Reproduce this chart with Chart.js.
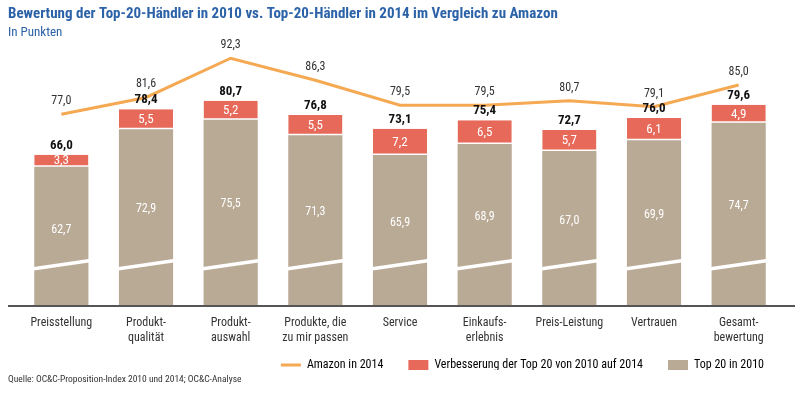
<!DOCTYPE html>
<html>
<head>
<meta charset="utf-8">
<script src="https://cdn.jsdelivr.net/npm/chart.js@4.4.1/dist/chart.umd.min.js"></script>
<style>
  html, body { margin: 0; padding: 0; background: #fff; }
</style>
</head>
<body>
<canvas id="chart" width="800" height="396"></canvas>
<script>
// categories (multi-line tick labels)
const categories = [
    ['Preisstellung'],
    ['Produkt-', 'qualität'],
    ['Produkt-', 'auswahl'],
    ['Produkte, die', 'zu mir passen'],
    ['Service'],
    ['Einkaufs-', 'erlebnis'],
    ['Preis-Leistung'],
    ['Vertrauen'],
    ['Gesamt-', 'bewertung']
];

// series values
const top20In2010 = [62.7, 72.9, 75.5, 71.3, 65.9, 68.9, 67.0, 69.9, 74.7];
const improvement = [3.3, 5.5, 5.2, 5.5, 7.2, 6.5, 5.7, 6.1, 4.9];
const totals2014 = [66.0, 78.4, 80.7, 76.8, 73.1, 75.4, 72.7, 76.0, 79.6];
const amazon2014 = [77.0, 81.6, 92.3, 86.3, 79.5, 79.5, 80.7, 79.1, 85.0];

// axis is cut (values start near 25)
const axisMin = 25;
const axisMax = 97;
const breakValue = 36;

const BEIGE = '#b9aa96';
const RED = '#e7695a';
const ORANGE = '#f5a953';
const BLUE = '#2c62a8';

const FONT = '"Roboto Condensed", "DejaVu Sans Condensed", sans-serif';
Chart.defaults.font.family = FONT;
Chart.defaults.color = '#333';

function fmt(v) {
    return v.toFixed(1).replace('.', ',');
}

// draws the axis line, the break marks, the value labels and the source line
const decorPlugin = {
    id: 'decor',
    afterLayout(chart) {
        // pull the legend up a bit, closer to the two-line category labels
        if (chart.legend) {
            chart.legend.top -= 15;
            chart.legend.bottom -= 15;
        }
    },
    afterDatasetsDraw(chart) {
        const ctx = chart.ctx;
        const area = chart.chartArea;
        const yScale = chart.scales.y;
        const baseBars = chart.getDatasetMeta(0).data;
        const topBars = chart.getDatasetMeta(1).data;
        const linePts = chart.getDatasetMeta(2).data;

        ctx.save();

        // break marks on the beige bars
        const yb = yScale.getPixelForValue(breakValue);
        ctx.strokeStyle = '#fff';
        ctx.lineWidth = 3.5;
        baseBars.forEach(function (bar) {
            ctx.beginPath();
            ctx.moveTo(bar.x - 31, yb + 4.5);
            ctx.lineTo(bar.x + 31, yb - 4.5);
            ctx.stroke();
        });

        // axis line
        ctx.strokeStyle = '#555';
        ctx.lineWidth = 2;
        ctx.beginPath();
        ctx.moveTo(area.left - 11, area.bottom + 1);
        ctx.lineTo(area.right + 14, area.bottom + 1);
        ctx.stroke();

        ctx.textAlign = 'center';
        ctx.textBaseline = 'middle';

        // labels inside the beige bars
        ctx.fillStyle = '#fff';
        ctx.font = '12px ' + FONT;
        baseBars.forEach(function (bar, i) {
            const bottom = Math.min(bar.base, area.bottom);
            const y = bar.y + (bottom - bar.y) * 0.455;
            ctx.fillText(fmt(top20In2010[i]), bar.x, y);
        });

        // labels inside the red segments
        ctx.font = '13px ' + FONT;
        topBars.forEach(function (bar, i) {
            ctx.fillText(fmt(improvement[i]), bar.x, (bar.y + bar.base) / 2 + 0.5);
        });

        // totals above the bars
        ctx.fillStyle = '#111';
        ctx.font = 'bold 13px ' + FONT;
        topBars.forEach(function (bar, i) {
            ctx.fillText(fmt(totals2014[i]), bar.x, bar.y - 9);
        });

        // Amazon values above the line
        ctx.fillStyle = '#333';
        ctx.font = '12px ' + FONT;
        linePts.forEach(function (pt, i) {
            ctx.fillText(fmt(amazon2014[i]), pt.x, pt.y - 13);
        });

        // source
        ctx.textAlign = 'left';
        ctx.fillStyle = '#333';
        ctx.font = '9.5px ' + FONT;
        ctx.fillText('Quelle: OC&C-Proposition-Index 2010 und 2014; OC&C-Analyse', 8, 380);

        ctx.restore();
    }
};

const ctx = document.getElementById('chart');
new Chart(ctx, {
    data: {
        labels: categories,
        datasets: [
            {
                type: 'bar',
                label: 'Top 20 in 2010',
                data: top20In2010,
                backgroundColor: BEIGE,
                stack: 'retail',
                order: 1,
                categoryPercentage: 1,
                barPercentage: 0.64
            },
            {
                type: 'bar',
                label: 'Verbesserung der Top 20 von 2010 auf 2014',
                data: improvement,
                backgroundColor: RED,
                borderColor: '#fff',
                borderWidth: { bottom: 1.5 },
                borderSkipped: false,
                stack: 'retail',
                order: 1,
                categoryPercentage: 1,
                barPercentage: 0.64
            },
            {
                type: 'line',
                label: 'Amazon in 2014',
                data: amazon2014,
                borderColor: ORANGE,
                backgroundColor: ORANGE,
                borderWidth: 3,
                pointRadius: 0,
                tension: 0,
                stack: 'amazon',
                order: 0
            }
        ]
    },
    options: {
        responsive: false,
        animation: false,
        layout: {
            padding: { top: 5, left: 8, right: 11, bottom: 11 }
        },
        plugins: {
            title: {
                display: true,
                align: 'start',
                text: 'Bewertung der Top-20-Händler in 2010 vs. Top-20-Händler in 2014 im Vergleich zu Amazon',
                color: BLUE,
                font: { size: 15, weight: 'bold' },
                padding: { top: 0, bottom: 2 }
            },
            subtitle: {
                display: true,
                align: 'start',
                text: 'In Punkten',
                color: BLUE,
                font: { size: 13 },
                padding: { top: 0, bottom: 0.4 }
            },
            legend: {
                position: 'bottom',
                align: 'end',
                maxHeight: 36,
                labels: {
                    usePointStyle: true,
                    pointStyleWidth: 20,
                    boxHeight: 10,
                    padding: 25,
                    color: '#333',
                    font: { size: 12 },
                    generateLabels: function (chart) {
                        return [
                            { text: 'Amazon in 2014', pointStyle: 'line', strokeStyle: ORANGE, fillStyle: ORANGE, lineWidth: 3, datasetIndex: 2, hidden: false },
                            { text: 'Verbesserung der Top 20 von 2010 auf 2014', pointStyle: 'rect', fillStyle: RED, strokeStyle: RED, lineWidth: 0, datasetIndex: 1, hidden: false },
                            { text: 'Top 20 in 2010', pointStyle: 'rect', fillStyle: BEIGE, strokeStyle: BEIGE, lineWidth: 0, datasetIndex: 0, hidden: false }
                        ];
                    }
                }
            },
            tooltip: { enabled: false }
        },
        scales: {
            x: {
                stacked: true,
                grid: { display: false },
                border: { display: false },
                ticks: { font: { size: 12, lineHeight: 1.25 }, color: '#333', padding: 2.5 },
                afterFit: function (scale) { scale.height = 44; }
            },
            y: {
                stacked: true,
                min: axisMin,
                max: axisMax,
                grid: { display: false },
                border: { display: false },
                ticks: { display: false },
                afterFit: function (scale) { scale.width = 11; }
            },
            yRight: {
                position: 'right',
                min: axisMin,
                max: axisMax,
                grid: { display: false },
                border: { display: false },
                ticks: { display: false },
                afterFit: function (scale) { scale.width = 8; }
            }
        }
    },
    plugins: [decorPlugin]
});
</script>
</body>
</html>
